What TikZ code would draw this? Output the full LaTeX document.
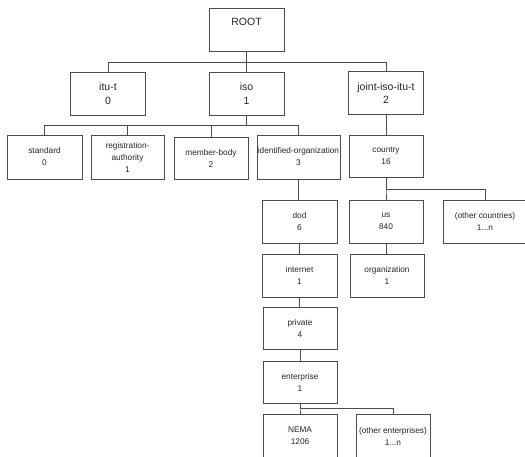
\documentclass[tikz,border=0pt]{standalone}
\usepackage{fontspec}
\setmainfont{Liberation Sans}
\begin{document}
\begin{tikzpicture}
[
x=1pt, y=-1pt,
Topbox/.style={rectangle, draw=black!70, fill=white, line width=0.9pt, minimum width=75pt, minimum height=43pt, inner sep=1pt, align=center, text=black!85, font=\fontsize{10.5}{13.5}\selectfont},
Subbox/.style={rectangle, draw=black!70, fill=white, line width=0.9pt, minimum width=74pt, minimum height=43pt, inner sep=0.5pt, align=center, text=black!85, font=\fontsize{8.3}{12}\selectfont},
Treeline/.style={-, draw=black!70, line width=0.9pt}
]
\useasboundingbox (0,0) rectangle (525,457);
\clip (0,0) rectangle (525,457);

% top levels
\node[Topbox, text depth=16pt] (root) at (246.5,29.5) {ROOT};
\node[Topbox] (itut)  at (108,93.5)   {itu-t\\0};
\node[Topbox] (iso)   at (246.5,93.5) {iso\\1};
\node[Topbox] (joint) at (386,93)     {joint-iso-itu-t\\2};

% second level
\node[Subbox, minimum width=75pt, minimum height=44pt] (standard) at (44.5,157)  {standard\\0};
\node[Subbox, minimum width=73pt, minimum height=44pt] (regauth)  at (127.5,157) {registration-\\authority\\1};
\node[Subbox, minimum height=42pt] (member)   at (211,158)   {member-body\\2};
\node[Subbox, minimum width=83pt, minimum height=44pt] (idorg)    at (298.5,157) {identified-organization\\3};
\node[Subbox, minimum height=42pt] (country)  at (386,156)   {country\\16};

% branches below
\node[Subbox, minimum width=75pt] (dod)      at (299.5,221.5) {dod\\6};
\node[Subbox] (us)       at (386,221.5)   {us\\840};
\node[Subbox, minimum width=84pt] (others)   at (485,221.5)   {(other countries)\\1...n};
\node[Subbox, minimum width=75pt] (internet) at (299.5,275.5) {internet\\1};
\node[Subbox] (organization) at (387,275.5) {organization\\1};
\node[Subbox, minimum height=42pt] (private)    at (300,328) {private\\4};
\node[Subbox, minimum height=42pt] (enterprise) at (300,382) {enterprise\\1};
\node[Subbox, minimum height=44pt] (nema)     at (300,436)   {NEMA\\1206};
\node[Subbox, minimum height=44pt] (otherent) at (393,436)   {(other enterprises)\\1...n};

% connectors
\draw[Treeline] (root.south) -- ++(0,11) -| (itut.north);
\draw[Treeline] (root.south) -- ++(0,11) -| (iso.north);
\draw[Treeline] (root.south) -- ++(0,11) -| (joint.north);

\draw[Treeline] (iso.south) -- ++(0,10) -| (standard.north);
\draw[Treeline] (iso.south) -- ++(0,10) -| (regauth.north);
\draw[Treeline] (iso.south) -- ++(0,10) -| (member.north);
\draw[Treeline] (iso.south) -- ++(0,10) -| (idorg.north);
\draw[Treeline] (joint.south) -- (joint.south |- country.north);

\draw[Treeline] (idorg.south) -- (idorg.south |- dod.north);
\draw[Treeline] (country.south) -- ++(0,12) -| (us.north);
\draw[Treeline] (country.south) -- ++(0,12) -| (others.north);
\draw[Treeline] (dod.south) -- (internet.north);
\draw[Treeline] (us.south) -- (us.south |- organization.north);
\draw[Treeline] (internet.south) -- (internet.south |- private.north);
\draw[Treeline] (private.south) -- (enterprise.north);
\draw[Treeline] (enterprise.south) -- ++(0,5) -| (nema.north);
\draw[Treeline] (enterprise.south) -- ++(0,5) -| (otherent.north);
\end{tikzpicture}
\end{document}
